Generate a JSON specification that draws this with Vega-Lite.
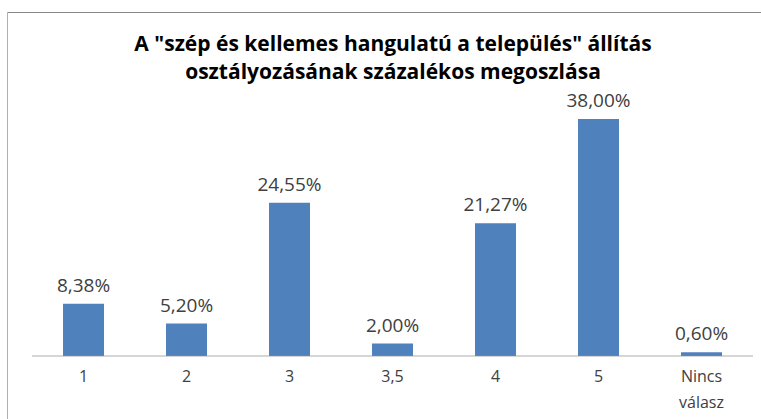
{
  "$schema": "https://vega.github.io/schema/vega-lite/v6.json",
  "width": 754,
  "height": 407,
  "autosize": {"type": "none"},
  "padding": {"left": 7, "right": 0, "top": 12, "bottom": 0},
  "background": "white",
  "title": {
    "text": ["A \"szép és kellemes hangulatú a település\" állítás", "osztályozásának százalékos megoszlása"],
    "font": "Open Sans",
    "fontSize": 21,
    "fontWeight": "bold",
    "color": "#000000",
    "lineHeight": 28,
    "anchor": "middle",
    "frame": "group",
    "baseline": "top",
    "dx": 9,
    "offset": -71
  },
  "data": {
    "values": [
      {"kategoria": "1", "ertek": 0.0838},
      {"kategoria": "2", "ertek": 0.0520},
      {"kategoria": "3", "ertek": 0.2455},
      {"kategoria": "3,5", "ertek": 0.0200},
      {"kategoria": "4", "ertek": 0.2127},
      {"kategoria": "5", "ertek": 0.3800},
      {"kategoria": "Nincs válasz", "ertek": 0.0060}
    ]
  },
  "layer": [
    {
      "mark": {"type": "bar", "color": "#4F81BD", "size": 41},
      "encoding": {
        "x": {
          "field": "kategoria",
          "type": "nominal",
          "sort": null,
          "scale": {"paddingInner": 0, "paddingOuter": 0.1602, "align": 0.758},
          "axis": {
            "orient": "bottom",
            "offset": -63,
            "title": null,
            "labelAngle": 0,
            "labelFont": "Open Sans",
            "labelFontSize": 16,
            "labelColor": "#404040",
            "labelPadding": 12,
            "labelLineHeight": 26,
            "labelExpr": "datum.value == 'Nincs válasz' ? ['Nincs', 'válasz'] : datum.value",
            "ticks": false,
            "domain": false,
            "grid": false
          }
        },
        "y": {
          "field": "ertek",
          "type": "quantitative",
          "scale": {"domain": [-0.10096, 0.55128], "nice": false, "zero": false},
          "axis": {
            "orient": "left",
            "title": null,
            "labels": false,
            "ticks": false,
            "grid": false,
            "domain": true,
            "domainColor": "#b0b0b0",
            "domainWidth": 1
          }
        },
        "y2": {"datum": 0}
      }
    },
    {
      "mark": {"type": "text", "baseline": "alphabetic", "dy": -12, "font": "Open Sans", "fontSize": 19, "color": "#404040"},
      "encoding": {
        "x": {"field": "kategoria", "type": "nominal", "sort": null, "axis": null},
        "y": {"field": "ertek", "type": "quantitative"},
        "text": {"field": "ertek", "type": "quantitative", "format": ".2%"}
      }
    },
    {
      "mark": {"type": "tick", "orient": "horizontal", "size": 103, "thickness": 1, "color": "#8c8c8c"},
      "encoding": {
        "x": {
          "field": "kategoria",
          "type": "nominal",
          "sort": null,
          "axis": {
            "orient": "top",
            "title": null,
            "labels": false,
            "ticks": false,
            "grid": false,
            "domain": true,
            "domainColor": "#888888",
            "domainWidth": 1
          }
        },
        "y": {"datum": 0}
      }
    }
  ],
  "resolve": {"axis": {"x": "independent"}},
  "config": {
    "view": {"stroke": null},
    "locale": {"number": {"decimal": ",", "thousands": ".", "grouping": [3], "currency": ["", " Ft"]}}
  }
}
